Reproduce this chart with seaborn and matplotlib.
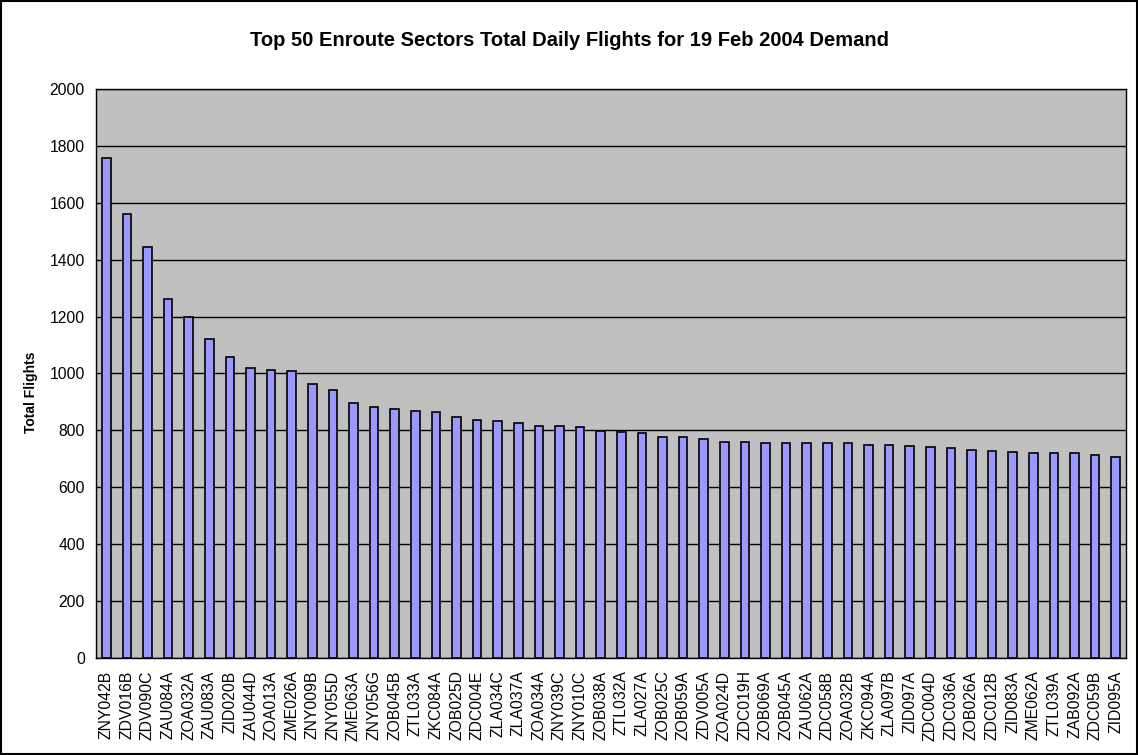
"""
Top 50 secteurs en route - vols journaliers totaux (19 Feb 2004).
"""
import numpy as np
import pandas as pd
import matplotlib
matplotlib.use("Agg")
import matplotlib.pyplot as plt
from matplotlib.patches import Rectangle
import seaborn as sns

sectors = ["ZNY042B", "ZDV016B", "ZDV090C", "ZAU084A", "ZOA032A", "ZAU083A",
           "ZID020B", "ZAU044D", "ZOA013A", "ZME026A", "ZNY009B", "ZNY055D",
           "ZME063A", "ZNY056G", "ZOB045B", "ZTL033A", "ZKC084A", "ZOB025D",
           "ZDC004E", "ZLA034C", "ZLA037A", "ZOA034A", "ZNY039C", "ZNY010C",
           "ZOB038A", "ZTL032A", "ZLA027A", "ZOB025C", "ZOB059A", "ZDV005A",
           "ZOA024D", "ZDC019H", "ZOB069A", "ZOB045A", "ZAU062A", "ZDC058B",
           "ZOA032B", "ZKC094A", "ZLA097B", "ZID097A", "ZDC004D", "ZDC036A",
           "ZOB026A", "ZDC012B", "ZID083A", "ZME062A", "ZTL039A", "ZAB092A",
           "ZDC059B", "ZID095A"]
flights = [1759, 1562, 1445, 1263, 1200, 1120, 1058, 1019, 1013, 1009,
           964, 942, 896, 882, 876, 869, 863, 847, 838, 833,
           825, 816, 815, 813, 797, 794, 790, 777, 776, 770,
           760, 759, 757, 756, 755, 754, 754, 749, 748, 744,
           742, 737, 731, 726, 723, 721, 720, 719, 714, 705]
y_ticks = [0, 200, 400, 600, 800, 1000, 1200, 1400, 1600, 1800, 2000]

df = pd.DataFrame({"sector": sectors, "flights": flights})

sns.set_style("white")
plt.rcParams["font.family"] = ["Liberation Sans", "DejaVu Sans"]
plt.rcParams.update({"text.color": "black", "axes.labelcolor": "black",
                     "xtick.color": "black", "ytick.color": "black"})

fig = plt.figure(figsize=(11.38, 7.55), dpi=100)
ax = fig.add_axes([96/1138, 97/755, 1030/1138, 569/755])
ax.set_facecolor("#C0C0C0")

sns.barplot(data=df, x="sector", y="flights", color="#9999FF", saturation=1,
            width=0.42, edgecolor="black", linewidth=1.2, ax=ax, zorder=3)

ax.set_ylim(0, 2000)
ax.set_xlim(-0.5, len(sectors) - 0.5)
ax.set_yticks(y_ticks)
ax.yaxis.grid(True, color="black", linewidth=1, zorder=1)
ax.set_axisbelow(True)

# ticks entre les catégories (style Excel)
ax.set_xticks(np.arange(len(sectors)))
ax.set_xticklabels(sectors, rotation=90, fontsize=11.3)
ax.set_xticks(np.arange(-0.5, len(sectors)), minor=True)
ax.tick_params(axis="x", which="major", length=0, pad=9)
ax.tick_params(axis="x", which="minor", length=5, width=1, color="black")
ax.tick_params(axis="y", length=5, width=1, color="black", labelsize=11.3, pad=3)

for s in ax.spines.values():
    s.set_visible(True)
    s.set_color("black")
    s.set_linewidth(1)

ax.set_xlabel("")
ax.set_ylabel("Total Flights", fontsize=10, fontweight="bold")
ax.yaxis.set_label_coords(-58/1030, (658 - 392)/569)
fig.text(0.5, 1 - 40/755, "Top 50 Enroute Sectors Total Daily Flights for 19 Feb 2004 Demand",
         ha="center", va="center", fontsize=14.5, fontweight="bold")

fig.patches.append(Rectangle((0.001, 0.001), 0.998, 0.998, transform=fig.transFigure,
                             fill=False, edgecolor="black", linewidth=1.5))

plt.savefig("out.png", dpi=100)
plt.close()
